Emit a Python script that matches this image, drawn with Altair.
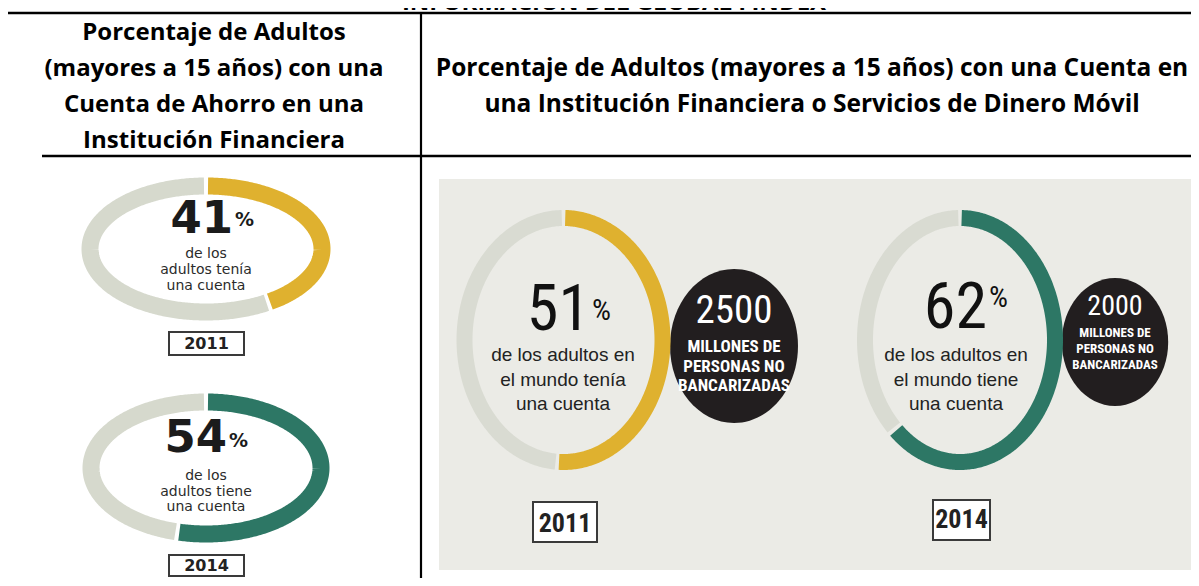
import altair as alt
import numpy as np
import pandas as pd

# ---------------- data ----------------
title_text = "INFORMACIÓN DEL GLOBAL FINDEX"
header_left = ["Porcentaje de Adultos", "(mayores a 15 años) con una",
               "Cuenta de Ahorro en una", "Institución Financiera"]
header_right = ["Porcentaje de Adultos (mayores a 15 años) con una Cuenta en",
                "una Institución Financiera o Servicios de Dinero Móvil"]
years = ["2011", "2014"]
pct_savings = [41, 54]          # cuenta de ahorro en institución financiera
pct_account = [51, 62]          # cuenta en institución financiera o dinero móvil
unbanked_millions = [2500, 2000]
sub_left = [["de los", "adultos tenía", "una cuenta"],
            ["de los", "adultos tiene", "una cuenta"]]
sub_right = [["de los adultos en", "el mundo tenía", "una cuenta"],
             ["de los adultos en", "el mundo tiene", "una cuenta"]]
circle_caption = ["MILLONES DE", "PERSONAS NO", "BANCARIZADAS"]

# ---------------- styles / layout ----------------
W, H = 1183, 570
OFF = 8  # page margin: layout below is given in page pixels
YEAR_COLOR = {"2011": "#DFB12F", "2014": "#2D7765"}
GRAY_LEFT = "#D6D9CD"
GRAY_RIGHT = "#D9DBD2"
PANEL_BG = "#EBEBE6"
BLACK = "#221E1F"
HEAD_FONT = "Open Sans"
WIDE_FONT = "DejaVu Sans"
NARROW_FONT = "Liberation Sans Narrow, Roboto Condensed, DejaVu Sans Condensed, Liberation Sans"
ARIAL = "Liberation Sans"

dummy = pd.DataFrame({"k": [0]})


def px(v):
    return v - OFF


def ring_frame(pct, gap):
    split = pct / 100.0 * 360.0
    rows = []
    for seg, (a0, a1) in {"share": (gap, split - gap), "rest": (split + gap, 360 - gap)}.items():
        n = int(abs(a1 - a0) / 0.75) + 2
        for i, t in enumerate(np.linspace(a0, a1, n)):
            r = np.radians(t)
            rows.append({"seg": seg, "i": i, "u": float(np.sin(r)), "v": float(np.cos(r))})
    return pd.DataFrame(rows)


def ring(pct, year, cx, cy, rx, ry, gray, sw, gap=1.0):
    X0, Y0 = px(cx), px(cy)
    return alt.Chart(ring_frame(pct, gap)).mark_line(
        strokeWidth=sw, strokeCap="butt", strokeJoin="round"
    ).encode(
        x=alt.X("u:Q", scale=alt.Scale(domain=[-1, 1], range=[X0 - rx, X0 + rx], nice=False, zero=False), axis=None),
        y=alt.Y("v:Q", scale=alt.Scale(domain=[-1, 1], range=[Y0 + ry, Y0 - ry], nice=False, zero=False), axis=None),
        color=alt.Color("seg:N", scale=alt.Scale(domain=["share", "rest"], range=[YEAR_COLOR[year], gray]), legend=None),
        detail="seg:N",
        order="i:Q",
    )


def text(t, x, y, size, font, weight="normal", color="#000000", align="center", lh=None, baseline="alphabetic"):
    kw = dict(text=t, fontSize=size, font=font, fontWeight=weight, color=color,
              align=align, baseline=baseline)
    if lh is not None:
        kw["lineHeight"] = lh
    return alt.Chart(dummy).mark_text(**kw).encode(x=alt.value(px(x)), y=alt.value(px(y)))


def box(x0, x1, y0, y1, sw=2):
    return alt.Chart(dummy).mark_rect(fill="white", stroke="#3a3a3a", strokeWidth=sw).encode(
        x=alt.value(px(x0)), x2=alt.value(px(x1)), y=alt.value(px(y0)), y2=alt.value(px(y1)))


def hrule(x0, x1, y, sw=2.5):
    return alt.Chart(dummy).mark_rule(color="black", strokeWidth=sw).encode(
        x=alt.value(px(x0)), x2=alt.value(px(x1)), y=alt.value(px(y)))


def vrule(x, y0, y1, sw=2.2):
    return alt.Chart(dummy).mark_rule(color="black", strokeWidth=sw).encode(
        x=alt.value(px(x)), y=alt.value(px(y0)), y2=alt.value(px(y1)))


ELLIPSE = "M 0 -1 A 0.831 1 0 1 1 0 1 A 0.831 1 0 1 1 0 -1 Z"


def blob(cx, cy, ry):
    return alt.Chart(dummy).mark_point(
        shape=ELLIPSE, size=(2 * ry) ** 2, filled=True, color=BLACK, opacity=1, strokeWidth=0
    ).encode(x=alt.value(px(cx)), y=alt.value(px(cy)))


layers = []

# right panel background
layers.append(alt.Chart(dummy).mark_rect(color=PANEL_BG).encode(
    x=alt.value(px(439)), x2=alt.value(px(1197)), y=alt.value(px(179)), y2=alt.value(px(570))))

# table lines
layers += [hrule(0, 1199, 13), hrule(42, 1199, 156), vrule(421, 13, 590)]

# title (cut at top) and headers
layers.append(text(title_text, 614, 10, 24, HEAD_FONT, "bold"))
layers.append(text(header_left, 214, 40, 24, HEAD_FONT, "bold", lh=36))
layers.append(text(header_right, 812, 76, 24.5, HEAD_FONT, "bold", lh=36))

# ---- left column donuts ----
left_geo = [
    dict(cx=206, cy=249, rx=116, ry=63, num_r=233, num_b=233, pct_b=226, sub_b=258, sub_lh=16,
         box=(169, 244, 332, 355), yb=349),
    dict(cx=206, cy=468, rx=115, ry=66, num_r=227, num_b=452, pct_b=447, sub_b=480, sub_lh=15.5,
         box=(169, 244, 555, 576), yb=571),
]
for k in range(2):
    g = left_geo[k]
    layers.append(ring(pct_savings[k], years[k], g["cx"], g["cy"], g["rx"], g["ry"], GRAY_LEFT, 17))
    layers.append(text(str(pct_savings[k]), g["num_r"], g["num_b"], 45, WIDE_FONT, "bold", "#1B1B1B", align="right"))
    layers.append(text("%", g["num_r"] + 2, g["pct_b"], 19, WIDE_FONT, "bold", "#1B1B1B", align="left"))
    layers.append(text(sub_left[k], g["cx"], g["sub_b"], 14, WIDE_FONT, "normal", "#2B2B2B", lh=g["sub_lh"]))
    x0, x1, y0, y1 = g["box"]
    layers.append(box(x0, x1, y0, y1))
    layers.append(text(years[k], (x0 + x1) / 2, g["yb"], 16, WIDE_FONT, "bold", "#222222"))

# ---- right column donuts ----
right_geo = [
    dict(cx=563.5, cy=340, rx=99, ry=122, num_r=590, num_b=330, pct_b=320, sub_x=563,
         box=(533, 597, 502, 542), yb=532,
         bx=734, by=346, bry=77, big_b=323, big_fs=39, cap_b=352, cap_lh=19.5, cap_fs=17),
    dict(cx=960, cy=340, rx=95, ry=122, num_r=987, num_b=328, pct_b=307, sub_x=956,
         box=(933, 990, 500, 540), yb=528,
         bx=1115, by=342, bry=64, big_b=315, big_fs=28, cap_b=337, cap_lh=16, cap_fs=13),
]
for k in range(2):
    g = right_geo[k]
    layers.append(blob(g["bx"], g["by"], g["bry"]))
    layers.append(ring(pct_account[k], years[k], g["cx"], g["cy"], g["rx"], g["ry"], GRAY_RIGHT, 16))
    layers.append(text(str(pct_account[k]), g["num_r"], g["num_b"], 64, NARROW_FONT, "normal", "#111111", align="right"))
    layers.append(text("%", g["num_r"] + 2, g["pct_b"], 30, NARROW_FONT, "normal", "#111111", align="left"))
    layers.append(text(sub_right[k], g["sub_x"], 361, 19, ARIAL, "normal", "#222222", lh=24.5))
    x0, x1, y0, y1 = g["box"]
    layers.append(box(x0, x1, y0, y1))
    layers.append(text(years[k], (x0 + x1) / 2, g["yb"], 26, NARROW_FONT, "bold", "#222222"))
    layers.append(text(f"{unbanked_millions[k]}", g["bx"], g["big_b"], g["big_fs"], NARROW_FONT, "normal", "white"))
    layers.append(text(circle_caption, g["bx"], g["cap_b"], g["cap_fs"], NARROW_FONT, "bold", "white", lh=g["cap_lh"]))

chart = alt.layer(*layers).resolve_scale(
    x="independent", y="independent", color="independent"
).properties(
    width=W, height=H, padding=0, autosize="none", background="white"
).configure_view(stroke=None)

chart.save("out.html", embed_options={"renderer": "svg", "actions": False})
